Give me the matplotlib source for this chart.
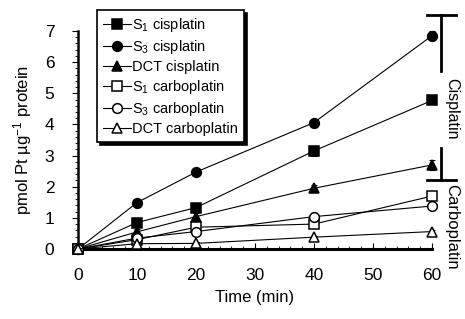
import matplotlib
matplotlib.use("Agg")
import matplotlib.pyplot as plt
from matplotlib.ticker import MultipleLocator

plt.rcParams['font.family'] = ['Liberation Sans', 'DejaVu Sans']
plt.rcParams['mathtext.fontset'] = 'custom'
plt.rcParams['mathtext.rm'] = 'Liberation Sans'
plt.rcParams['mathtext.it'] = 'Liberation Sans:italic'

time = [0, 10, 20, 40, 60]
labels = ["S$_1$ cisplatin", "S$_3$ cisplatin", "DCT cisplatin",
          "S$_1$ carboplatin", "S$_3$ carboplatin", "DCT carboplatin"]
s1_cis = [0.0, 0.85, 1.33, 3.15, 4.77]
s3_cis = [0.0, 1.49, 2.47, 4.06, 6.85]
dct_cis = [0.0, 0.55, 1.04, 1.95, 2.70]
s1_carbo = [0.0, 0.30, 0.70, 0.80, 1.70]
s3_carbo = [0.0, 0.35, 0.56, 1.04, 1.38]
dct_carbo = [0.0, 0.17, 0.18, 0.38, 0.56]
s1_cis_err = [0.0, 0.10, 0.12, 0.15, 0.12]
s3_cis_err = [0.0, 0.12, 0.10, 0.13, 0.15]
dct_cis_err = [0.0, 0.08, 0.10, 0.12, 0.15]
s1_carbo_err = [0.0, 0.05, 0.05, 0.05, 0.05]
s3_carbo_err = [0.0, 0.05, 0.05, 0.05, 0.05]
dct_carbo_err = [0.0, 0.03, 0.03, 0.04, 0.04]

series = [s1_cis, s3_cis, dct_cis, s1_carbo, s3_carbo, dct_carbo]
errs = [s1_cis_err, s3_cis_err, dct_cis_err, s1_carbo_err, s3_carbo_err, dct_carbo_err]
markers = ['s', 'o', '^', 's', 'o', '^']
faces = ['black', 'black', 'black', 'white', 'white', 'white']

fig = plt.figure(figsize=(4.65, 3.19), dpi=100)
ax = fig.add_axes([78/465, 1-249/319, (432-78)/465, (249-31)/319])

handles = []
for y, e, m, fc, lab in zip(series, errs, markers, faces, labels):
    ax.errorbar(time, y, yerr=e, fmt='none', ecolor='black', elinewidth=0.8,
                capsize=2, capthick=0.8, clip_on=False, zorder=2)
    h, = ax.plot(time, y, color='black', lw=0.8, marker=m, markersize=7,
                 markerfacecolor=fc, markeredgecolor='black', markeredgewidth=1.1,
                 clip_on=False, zorder=3, label=lab)
    handles.append(h)

ax.set_xlim(0, 60)
ax.set_ylim(0, 7)
ax.xaxis.set_major_locator(MultipleLocator(10))
ax.xaxis.set_minor_locator(MultipleLocator(2))
ax.yaxis.set_major_locator(MultipleLocator(1))
ax.yaxis.set_minor_locator(MultipleLocator(0.2))
ax.spines['top'].set_visible(False)
ax.spines['right'].set_visible(False)
ax.spines['left'].set_linewidth(1.8)
ax.spines['bottom'].set_linewidth(2.2)
ax.tick_params(axis='x', which='major', direction='in', length=4, width=0.8, labelsize=12.5, pad=14)
ax.tick_params(axis='x', which='minor', direction='in', length=2.5, width=0.6)
ax.tick_params(axis='y', which='major', direction='out', length=4, width=0.8, labelsize=12.5, pad=13)
ax.tick_params(axis='y', which='minor', direction='out', length=2.5, width=0.6)
ax.set_xlabel("Time (min)", fontsize=12, labelpad=5)
ax.set_ylabel("pmol Pt µg$^{-1}$ protein", fontsize=12, labelpad=8)

leg = fig.legend(handles=handles, loc='upper left', bbox_to_anchor=(97/465, 1-10/319),
                 bbox_transform=fig.transFigure, borderaxespad=0, fontsize=10.5,
                 handlelength=1.9, handletextpad=0.12, labelspacing=0.28,
                 borderpad=0.4, fancybox=False, edgecolor='black', framealpha=1,
                 shadow={'color': 'black', 'alpha': 1, 'ox': 2, 'oy': -2})
leg.get_frame().set_linewidth(1.2)

# right-side brackets
tr = ax.transData
ax.plot([59.2, 64.0], [7.52, 7.52], color='black', lw=2, clip_on=False, transform=tr)
ax.plot([61.6, 61.6], [7.52, 5.7], color='black', lw=2, clip_on=False, transform=tr)
ax.plot([61.6, 61.6], [3.25, 2.2], color='black', lw=2, clip_on=False, transform=tr)
ax.plot([59.2, 64.0], [2.2, 2.2], color='black', lw=2, clip_on=False, transform=tr)
ax.text(63.3, 4.5, "Cisplatin", rotation=-90, ha='center', va='center', fontsize=11.5)
ax.text(63.3, 0.72, "Carboplatin", rotation=-90, ha='center', va='center', fontsize=12)

fig.savefig("out.png", dpi=100)
